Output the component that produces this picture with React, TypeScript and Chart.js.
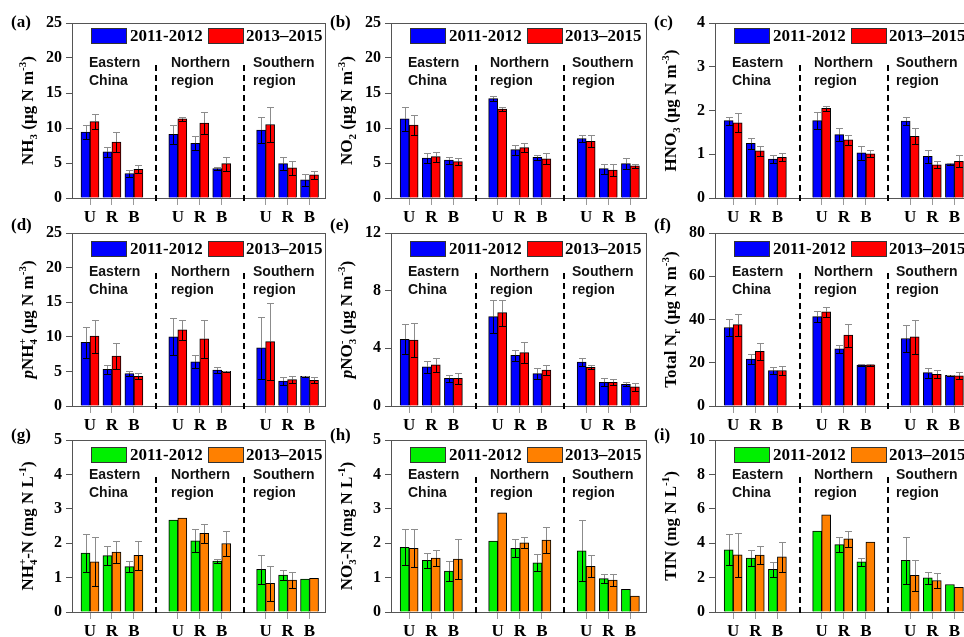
import React, { useEffect, useRef } from 'react';
import { Chart, registerables } from 'chart.js';
Chart.register(...registerables);

// ---------- categories ----------
const sites = ['U', 'R', 'B'];
const regionNames = [['Eastern', 'China'], ['Northern', 'region'], ['Southern', 'region']];
const periods = ['2011-2012', '2013–2015'];
// slot index on the x axis: three sites per region, one empty slot between regions
const xSlots = regionNames.flatMap((_, r) => sites.map((_, s) => r * 4 + s + 1));
const separators = [4, 8];

// ---------- (a) NH3 ----------
const nh3_p1 = [9.4, 6.6, 3.5, 9.1, 7.8, 4.2, 9.7, 4.9, 2.6];
const nh3_p2 = [10.9, 8.0, 4.1, 11.3, 10.7, 4.9, 10.5, 4.3, 3.3];
const nh3_e1 = [1.0, 0.75, 0.55, 1.4, 1.0, 0.2, 1.9, 0.95, 0.9];
const nh3_e2 = [1.1, 1.4, 0.55, 0.3, 1.6, 1.0, 2.5, 0.95, 0.6];
// ---------- (b) NO2 ----------
const no2_p1 = [11.3, 5.7, 5.4, 14.2, 6.9, 5.8, 8.5, 4.2, 4.9];
const no2_p2 = [10.4, 5.9, 5.2, 12.7, 7.2, 5.6, 8.1, 4.0, 4.6];
const no2_e1 = [1.7, 0.7, 0.5, 0.4, 0.7, 0.35, 0.5, 0.7, 0.8];
const no2_e2 = [1.4, 0.7, 0.45, 0.3, 0.6, 0.8, 0.85, 0.85, 0.25];
// ---------- (c) HNO3 ----------
const hno3_p1 = [1.77, 1.25, 0.89, 1.77, 1.45, 1.03, 1.76, 0.95, 0.78];
const hno3_p2 = [1.72, 1.08, 0.93, 2.05, 1.33, 1.01, 1.41, 0.76, 0.84];
const hno3_e1 = [0.09, 0.12, 0.1, 0.2, 0.14, 0.16, 0.1, 0.15, 0.02];
const hno3_e2 = [0.22, 0.11, 0.09, 0.06, 0.11, 0.08, 0.18, 0.08, 0.14];
// ---------- (d) pNH4+ ----------
const pnh4_p1 = [9.2, 5.3, 4.7, 10.0, 6.4, 5.2, 8.4, 3.6, 4.3];
const pnh4_p2 = [10.1, 7.2, 4.3, 11.0, 9.7, 5.0, 9.3, 3.8, 3.7];
const pnh4_e1 = [2.2, 0.65, 0.35, 2.65, 0.9, 0.5, 4.5, 0.63, 0.1];
const pnh4_e2 = [2.4, 1.9, 0.43, 1.4, 2.8, 0.05, 5.55, 0.5, 0.43];
// ---------- (e) pNO3- ----------
const pno3_p1 = [4.63, 2.71, 1.92, 6.2, 3.51, 2.25, 3.04, 1.64, 1.5];
const pno3_p2 = [4.58, 2.85, 1.92, 6.48, 3.7, 2.5, 2.69, 1.64, 1.33];
const pno3_e1 = [1.05, 0.4, 0.26, 1.12, 0.4, 0.4, 0.28, 0.28, 0.14];
const pno3_e2 = [1.2, 0.5, 0.4, 0.9, 0.75, 0.35, 0.12, 0.2, 0.26];
// ---------- (f) Total Nr ----------
const nr_p1 = [36.3, 21.7, 16.4, 41.3, 26.4, 18.9, 31.2, 15.4, 14.2];
const nr_p2 = [37.6, 25.3, 16.4, 43.5, 32.8, 19.0, 32.0, 14.7, 14.0];
const nr_e1 = [3.9, 2.3, 1.5, 2.5, 2.0, 0.3, 6.4, 2.4, 0.2];
const nr_e2 = [5.1, 3.9, 1.9, 2.4, 5.3, 0.5, 7.8, 1.8, 1.6];
// ---------- (g) NH4+-N ----------
const wnh4_p1 = [1.71, 1.64, 1.32, 2.67, 2.07, 1.48, 1.24, 1.07, 0.96];
const wnh4_p2 = [1.46, 1.74, 1.65, 2.73, 2.29, 1.99, 0.83, 0.93, 0.98];
const wnh4_e1 = [0.56, 0.28, 0.17, 0, 0.33, 0.05, 0.43, 0.15, 0];
const wnh4_e2 = [0.71, 0.31, 0.42, 0, 0.28, 0.37, 0.52, 0.24, 0];
// ---------- (h) NO3--N ----------
const wno3_p1 = [1.88, 1.5, 1.19, 2.06, 1.85, 1.43, 1.78, 0.97, 0.66];
const wno3_p2 = [1.85, 1.57, 1.54, 2.88, 2.01, 2.09, 1.33, 0.93, 0.46];
const wno3_e1 = [0.52, 0.21, 0.28, 0, 0.26, 0.25, 0.89, 0.14, 0];
const wno3_e2 = [0.55, 0.22, 0.57, 0, 0.16, 0.37, 0.32, 0.18, 0];
// ---------- (i) TIN ----------
const tin_p1 = [3.62, 3.13, 2.48, 4.71, 3.92, 2.92, 3.0, 1.98, 1.6];
const tin_p2 = [3.33, 3.31, 3.21, 5.65, 4.25, 4.06, 2.13, 1.83, 1.44];
const tin_e1 = [0.9, 0.48, 0.44, 0, 0.45, 0.23, 1.37, 0.35, 0];
const tin_e2 = [1.29, 0.52, 0.88, 0, 0.46, 0, 0.92, 0.44, 0];

// ---------- styling ----------
const BLUE = '#0000FF';
const RED = '#FF0000';
const GREEN = '#00F000';
const ORANGE = '#FF8000';
const SERIF = '"Liberation Serif", "Times New Roman", serif';
const SANS = '"Liberation Sans", Arial, sans-serif';

const COL_L = [72, 391, 715];
const COL_R = [326, 647, 971];
const ROW_T = [23, 233, 440];
const ROW_B = [198, 406, 612];
const AXIS_W = 72;
const XAXIS_H = 30;
const LABEL_DY = [0, -7, -4];
const REGION_DY = [44, 43, 39];
const SEP_DY = [42, 40, 37];
const LEGEND_DY = [5, 8, 7];

type Seg = { t: string; k?: 'sub' | 'sup'; it?: boolean; stack?: boolean };
type Spec = {
  tag: string; title: Seg[]; v1: number[]; v2: number[]; e1: number[]; e2: number[];
  yMax: number; yStep: number; c1: string; c2: string;
};

const ugm3: Seg[] = [{ t: ' (μg N m' }, { t: '-3', k: 'sup' }, { t: ')' }];
const mgL: Seg[] = [{ t: ' (mg N L' }, { t: '-1', k: 'sup' }, { t: ')' }];

const panels: Spec[] = [
  { tag: '(a)', title: [{ t: 'NH' }, { t: '3', k: 'sub' }, ...ugm3], v1: nh3_p1, v2: nh3_p2, e1: nh3_e1, e2: nh3_e2, yMax: 25, yStep: 5, c1: BLUE, c2: RED },
  { tag: '(b)', title: [{ t: 'NO' }, { t: '2', k: 'sub' }, ...ugm3], v1: no2_p1, v2: no2_p2, e1: no2_e1, e2: no2_e2, yMax: 25, yStep: 5, c1: BLUE, c2: RED },
  { tag: '(c)', title: [{ t: 'HNO' }, { t: '3', k: 'sub' }, ...ugm3], v1: hno3_p1, v2: hno3_p2, e1: hno3_e1, e2: hno3_e2, yMax: 4, yStep: 1, c1: BLUE, c2: RED },
  { tag: '(d)', title: [{ t: 'p', it: true }, { t: 'NH' }, { t: '4', k: 'sub', stack: true }, { t: '+', k: 'sup' }, ...ugm3], v1: pnh4_p1, v2: pnh4_p2, e1: pnh4_e1, e2: pnh4_e2, yMax: 25, yStep: 5, c1: BLUE, c2: RED },
  { tag: '(e)', title: [{ t: 'p', it: true }, { t: 'NO' }, { t: '3', k: 'sub', stack: true }, { t: '-', k: 'sup' }, ...ugm3], v1: pno3_p1, v2: pno3_p2, e1: pno3_e1, e2: pno3_e2, yMax: 12, yStep: 4, c1: BLUE, c2: RED },
  { tag: '(f)', title: [{ t: 'Total N' }, { t: 'r', k: 'sub' }, ...ugm3], v1: nr_p1, v2: nr_p2, e1: nr_e1, e2: nr_e2, yMax: 80, yStep: 20, c1: BLUE, c2: RED },
  { tag: '(g)', title: [{ t: 'NH' }, { t: '4', k: 'sub', stack: true }, { t: '+', k: 'sup' }, { t: '-N' }, ...mgL], v1: wnh4_p1, v2: wnh4_p2, e1: wnh4_e1, e2: wnh4_e2, yMax: 5, yStep: 1, c1: GREEN, c2: ORANGE },
  { tag: '(h)', title: [{ t: 'NO' }, { t: '3', k: 'sub', stack: true }, { t: '-', k: 'sup' }, { t: '-N' }, ...mgL], v1: wno3_p1, v2: wno3_p2, e1: wno3_e1, e2: wno3_e2, yMax: 5, yStep: 1, c1: GREEN, c2: ORANGE },
  { tag: '(i)', title: [{ t: 'TIN' }, ...mgL], v1: tin_p1, v2: tin_p2, e1: tin_e1, e2: tin_e2, yMax: 10, yStep: 2, c1: GREEN, c2: ORANGE },
];

function drawRich(ctx: CanvasRenderingContext2D, segs: Seg[], cx: number, cy: number, size: number) {
  const small = Math.round(size * 0.62);
  const font = (s: Seg) => `${s.it ? 'italic ' : ''}bold ${s.k ? small : size}px ${SERIF}`;
  const adv = segs.map((s) => { ctx.font = font(s); return ctx.measureText(s.t).width; });
  const pos: number[] = [];
  let x = 0;
  let stackW = 0;
  segs.forEach((s, i) => {
    pos.push(x);
    if (s.stack) stackW = adv[i];
    else { x += Math.max(adv[i], stackW); stackW = 0; }
  });
  const total = x;
  ctx.save();
  ctx.translate(cx, cy);
  ctx.rotate(-Math.PI / 2);
  ctx.fillStyle = '#000';
  ctx.textAlign = 'left';
  ctx.textBaseline = 'alphabetic';
  const base = size * 0.34;
  segs.forEach((s, i) => {
    ctx.font = font(s);
    const dy = s.k === 'sub' ? size * 0.24 : s.k === 'sup' ? -size * 0.42 : 0;
    ctx.fillText(s.t, -total / 2 + pos[i], base + dy);
  });
  ctx.restore();
}

function makeDecor(spec: Spec, row: number) {
  return {
    id: 'decor',
    afterDatasetsDraw(chart: any) {
      const ctx: CanvasRenderingContext2D = chart.ctx;
      const ys = chart.scales.y;
      chart.data.datasets.forEach((ds: any, di: number) => {
        const meta = chart.getDatasetMeta(di);
        meta.data.forEach((el: any, i: number) => {
          const v = ds.data[i].y;
          const e = ds.errors[i];
          if (!e) return;
          const x = Math.round(el.x) + 0.5;
          const yv = ys.getPixelForValue(v);
          const yTop = Math.round(ys.getPixelForValue(v + e)) + 0.5;
          const yBot = Math.round(ys.getPixelForValue(Math.max(0, v - e))) + 0.5;
          ctx.save();
          ctx.lineWidth = 1;
          ctx.strokeStyle = '#8c8c8c';
          ctx.beginPath();
          ctx.moveTo(x, yv); ctx.lineTo(x, yTop);
          ctx.moveTo(x - 3.5, yTop); ctx.lineTo(x + 3.5, yTop);
          ctx.stroke();
          ctx.strokeStyle = '#000';
          ctx.beginPath();
          ctx.moveTo(x, yv); ctx.lineTo(x, yBot);
          ctx.moveTo(x - 3.5, yBot); ctx.lineTo(x + 3.5, yBot);
          ctx.stroke();
          ctx.restore();
        });
      });
    },
    afterDraw(chart: any) {
      const ctx: CanvasRenderingContext2D = chart.ctx;
      const a = chart.chartArea;
      const xs = chart.scales.x;
      ctx.save();
      // frame
      ctx.strokeStyle = '#555';
      ctx.lineWidth = 1;
      ctx.strokeRect(Math.round(a.left) + 0.5, Math.round(a.top) + 0.5, Math.round(a.right - a.left) - 1, Math.round(a.bottom - a.top));
      // dashed separators
      ctx.strokeStyle = '#000';
      ctx.lineWidth = 2;
      ctx.setLineDash([6, 4]);
      separators.forEach((s) => {
        const x = Math.round(xs.getPixelForValue(s));
        ctx.beginPath();
        ctx.moveTo(x, a.top + SEP_DY[row]);
        ctx.lineTo(x, a.bottom + 5);
        ctx.stroke();
      });
      ctx.setLineDash([]);
      // region labels
      ctx.fillStyle = '#111';
      ctx.font = `bold 14px ${SANS}`;
      ctx.textAlign = 'left';
      ctx.textBaseline = 'alphabetic';
      const regX = [17, 99, 181];
      regionNames.forEach((lines, r) => {
        lines.forEach((ln, li) => {
          ctx.fillText(ln, a.left + regX[r], a.top + REGION_DY[row] + li * 18);
        });
      });
      // legend
      const ly = a.top + LEGEND_DY[row];
      const items = [
        { bx: 19, tx: 58, c: spec.c1, t: periods[0] },
        { bx: 136, tx: 174, c: spec.c2, t: periods[1] },
      ];
      items.forEach((it) => {
        ctx.fillStyle = it.c;
        ctx.fillRect(a.left + it.bx, ly, 36, 16);
        ctx.strokeStyle = '#333';
        ctx.lineWidth = 1;
        ctx.strokeRect(a.left + it.bx + 0.5, ly + 0.5, 35, 15);
        ctx.fillStyle = '#000';
        ctx.font = `bold 17px ${SERIF}`;
        ctx.textBaseline = 'middle';
        ctx.fillText(it.t, a.left + it.tx, ly + 9);
      });
      // panel tag
      ctx.font = `bold 17px ${SERIF}`;
      ctx.textBaseline = 'middle';
      ctx.fillStyle = '#000';
      ctx.fillText(spec.tag, 11, a.top + LABEL_DY[row]);
      ctx.restore();
      // axis title
      drawRich(ctx, spec.title, 27, (a.top + a.bottom) / 2, 17);
    },
  };
}

function Panel({ spec, col, row }: { spec: Spec; col: number; row: number }) {
  const ref = useRef<HTMLCanvasElement | null>(null);
  const cLeft = COL_L[col] - AXIS_W;
  const cTop = ROW_T[row] - 23;
  const w = COL_R[col] - cLeft + 2;
  const h = ROW_B[row] - cTop + XAXIS_H;

  useEffect(() => {
    if (!ref.current) return;
    const mk = (label: string, vals: number[], errs: number[], color: string) => ({
      label,
      data: xSlots.map((x, i) => ({ x, y: vals[i] })),
      errors: errs,
      backgroundColor: color,
      borderColor: '#000',
      borderWidth: 1,
      barThickness: 9,
    });
    const chart = new Chart(ref.current, {
      type: 'bar',
      data: {
        datasets: [
          mk(periods[0], spec.v1, spec.e1, spec.c1),
          mk(periods[1], spec.v2, spec.e2, spec.c2),
        ] as any,
      },
      options: {
        responsive: false,
        animation: false,
        devicePixelRatio: 1,
        events: [],
        layout: { padding: { left: 0, top: 23, right: 2, bottom: 0 } },
        plugins: { legend: { display: false }, tooltip: { enabled: false } },
        scales: {
          x: {
            type: 'linear',
            min: 0.18,
            max: 11.75,
            offset: false,
            grid: { display: true, drawOnChartArea: false, drawTicks: true, tickLength: 7, color: '#9a9a9a', offset: false },
            border: { display: false },
            afterBuildTicks: (s: any) => { s.ticks = xSlots.map((v) => ({ value: v })); },
            afterFit: (s: any) => { s.height = XAXIS_H; },
            ticks: {
              autoSkip: false,
              maxRotation: 0,
              padding: 2,
              color: '#000',
              font: { family: SERIF, weight: 'bold', size: 17 },
              callback: (v: any) => sites[(Number(v) - 1) % 4] ?? '',
            },
          },
          y: {
            type: 'linear',
            min: 0,
            max: spec.yMax,
            grid: { display: true, drawOnChartArea: false, drawTicks: true, tickLength: 6, color: '#555' },
            border: { display: false },
            afterFit: (s: any) => { s.width = AXIS_W; },
            ticks: {
              stepSize: spec.yStep,
              padding: 4,
              color: '#000',
              font: { family: SERIF, weight: 'bold', size: 16 },
            },
          },
        },
      } as any,
      plugins: [makeDecor(spec, row) as any],
    });
    return () => chart.destroy();
  }, []);

  return (
    <canvas
      ref={ref}
      width={w}
      height={h}
      style={{ position: 'absolute', left: cLeft, top: cTop, width: w, height: h }}
    />
  );
}

export default function App() {
  return (
    <div style={{ position: 'fixed', left: 0, top: 0, width: 964, height: 637, overflow: 'hidden', background: '#fff' }}>
      {panels.map((p, i) => (
        <Panel key={p.tag} spec={p} col={i % 3} row={Math.floor(i / 3)} />
      ))}
    </div>
  );
}
